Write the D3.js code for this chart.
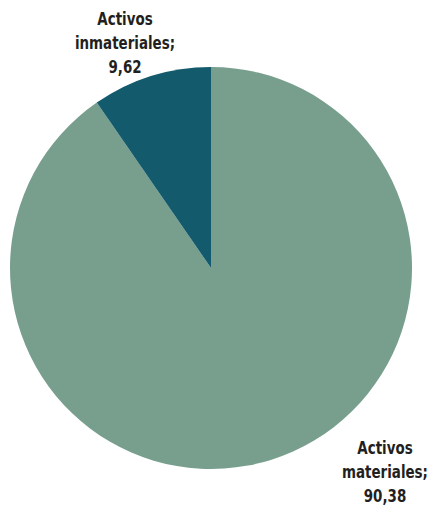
<!DOCTYPE html>
<html>
<head>
<meta charset="utf-8">
<script src="https://cdn.jsdelivr.net/npm/d3@7"></script>
<style>
  body { margin: 0; background: #fff; }
  svg text { font-family: "DejaVu Sans Condensed", "DejaVu Sans", sans-serif; font-weight: bold; fill: #231f20; }
</style>
</head>
<body>
<div id="chart"></div>
<script>
const categories = ["Activos materiales", "Activos inmateriales"];
const values = [90.38, 9.62];
const colors = ["#789f8e", "#135a6d"];

const w = 429, h = 508;
const cx = 211, cy = 268, r = 201;
// label anchor (middle line baseline) per slice, relative to pie centre
const labelPos = [[174, 210], [-86, -219]];

const svg = d3.select("#chart").append("svg")
  .attr("width", w).attr("height", h);

const pie = d3.pie().sort(null).value(d => d.v);
const arc = d3.arc().innerRadius(0).outerRadius(r);
const data = categories.map((c, i) => ({ c: c, v: values[i], col: colors[i] }));

const g = svg.append("g").attr("transform", `translate(${cx},${cy})`);
g.selectAll("path").data(pie(data)).enter().append("path")
  .attr("d", arc)
  .attr("fill", d => d.data.col);

const fmt = v => String(v).replace(".", ",");
data.forEach((d, i) => {
  const words = d.c.split(" ");
  const lines = [words[0], words.slice(1).join(" ") + ";", fmt(d.v)];
  const t = g.append("text")
    .attr("text-anchor", "middle")
    .attr("font-size", 18)
    .attr("transform", `translate(${labelPos[i][0]},${labelPos[i][1]}) scale(0.83,1)`);
  lines.forEach((l, j) => {
    t.append("tspan").attr("x", 0).attr("y", (j - 1) * 24).text(l);
  });
});
</script>
</body>
</html>
